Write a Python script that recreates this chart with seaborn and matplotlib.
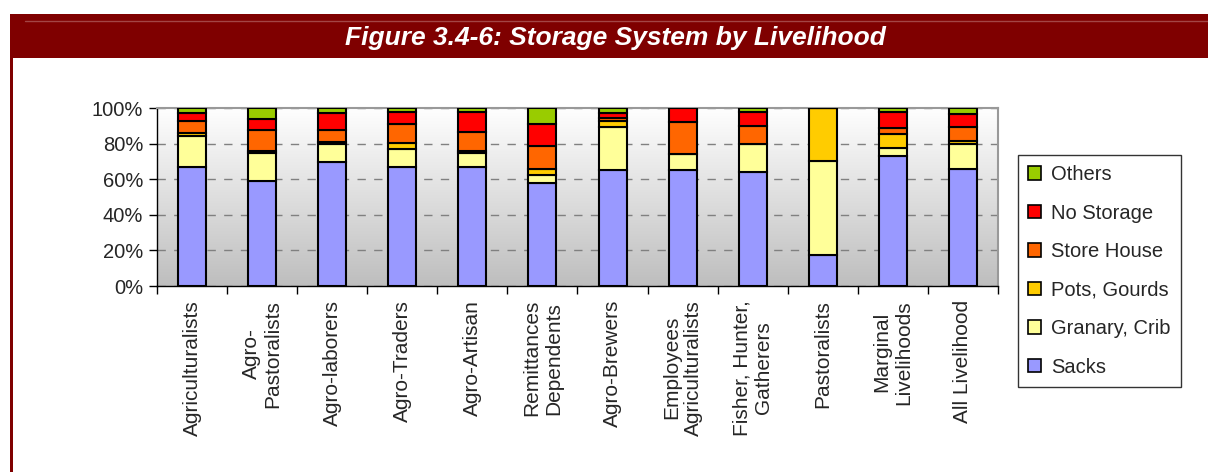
import matplotlib
matplotlib.use("Agg")
import matplotlib.pyplot as plt
import matplotlib.patches as mpatches
import matplotlib.lines as mlines
import numpy as np
import seaborn as sns

# categories along the x axis (newlines as in the original labels)
categories = ["Agriculturalists", "Agro-\nPastoralists", "Agro-laborers", "Agro-Traders",
              "Agro-Artisan", "Remittances\nDependents", "Agro-Brewers",
              "Employees\nAgriculturalists", "Fisher, Hunter,\nGatherers", "Pastoralists",
              "Marginal\nLivelihoods", "All Livelihood"]

# percentage shares, bottom to top of each stack
sacks = [67, 59, 69.5, 67, 67, 58, 65, 65, 64, 17.5, 73, 66]
granary = [17, 16, 10, 10, 8, 4.5, 24.5, 9, 15.5, 53, 4.5, 13.5]
pots = [2, 1, 1.5, 3.5, 1, 3.5, 3, 0, 0, 29.5, 8, 2]
store_house = [6.5, 11.5, 6.5, 10.5, 10.5, 12.5, 2, 18, 10.5, 0, 3, 8]
no_storage = [4.5, 6.5, 9.5, 7, 11, 12.5, 2.5, 8, 8, 0, 9, 7]
others = [3, 6, 3, 2, 2.5, 9, 3, 0, 2, 0, 2.5, 3.5]

series = [("Sacks", sacks, "#9999FF"),
          ("Granary, Crib", granary, "#FFFF99"),
          ("Pots, Gourds", pots, "#FFCC00"),
          ("Store House", store_house, "#FF6600"),
          ("No Storage", no_storage, "#FF0000"),
          ("Others", others, "#99CC00")]

y_ticks = [0, 20, 40, 60, 80, 100]
y_labels = ["0%", "20%", "40%", "60%", "80%", "100%"]

sns.set_style("ticks")
plt.rcParams["font.family"] = ["Liberation Sans", "DejaVu Sans"]

W, H = 1208, 472
fig = plt.figure(figsize=(W / 100, H / 100), dpi=100)
fig.patch.set_facecolor("white")

# header band and frame
fig.patches.append(mpatches.Rectangle((10 / W, 1 - 58 / H), 1 - 10 / W, 44 / H,
                                      transform=fig.transFigure, facecolor="#7F0000",
                                      edgecolor="none", zorder=0))
fig.patches.append(mpatches.Rectangle((10 / W, 0), 2.5 / W, 1 - 58 / H,
                                      transform=fig.transFigure, facecolor="#7F0000",
                                      edgecolor="none", zorder=0))
fig.lines.append(mlines.Line2D([25 / W, 1], [1 - 21 / H, 1 - 21 / H], transform=fig.transFigure,
                               color="#A34545", lw=1))
fig.text(615 / W, 1 - 38 / H, "Figure 3.4-6: Storage System by Livelihood", color="white",
         fontsize=19, fontweight="bold", fontstyle="italic", ha="center", va="center")

rect = [157 / W, 1 - 286 / H, (998 - 157) / W, (286 - 108) / H]

# gradient background behind the plot area
bg = fig.add_axes(rect, zorder=0)
grad = np.linspace(1, 0, 256).reshape(-1, 1)
bg.imshow(grad, aspect="auto", cmap=matplotlib.colors.LinearSegmentedColormap.from_list(
    "g", ["#BEBEBE", "#FFFFFF"]), extent=[0, 1, 0, 1])
bg.set_axis_off()

ax = fig.add_axes(rect, zorder=1)
ax.set_facecolor("none")

bottom = np.zeros(len(categories))
for name, vals, col in series:
    sns.barplot(x=categories, y=vals, bottom=bottom, color=col, edgecolor="black",
                linewidth=1.5, width=0.4, errorbar=None, saturation=1, ax=ax, zorder=3)
    bottom = bottom + np.array(vals)

ax.set_xlim(-0.5, len(categories) - 0.5)
ax.set_ylim(0, 100)
ax.set_yticks(y_ticks)
ax.set_yticklabels(y_labels, fontsize=14.5)
ax.yaxis.grid(True, color="#808080", linestyle=(0, (6, 6)), linewidth=1)
ax.set_axisbelow(True)

ax.set_xticks(range(len(categories)))
ax.set_xticklabels(categories, rotation=90, fontsize=15, va="top", ha="center",
                   multialignment="center")
ax.tick_params(axis="x", which="major", length=0, pad=10)
ax.set_xticks(np.arange(-0.5, len(categories), 1), minor=True)
ax.tick_params(axis="x", which="minor", length=6, width=1, color="black")
ax.tick_params(axis="y", length=6, width=1, color="black", pad=4)

for s in ["left", "bottom"]:
    ax.spines[s].set_color("black")
    ax.spines[s].set_linewidth(1)
for s in ["top", "right"]:
    ax.spines[s].set_visible(True)
    ax.spines[s].set_color("#999999")
    ax.spines[s].set_linewidth(1.5)
ax.set_xlabel("")
ax.set_ylabel("")

handles = [mpatches.Patch(facecolor=col, edgecolor="black", linewidth=1.2, label=name)
           for name, vals, col in series][::-1]
leg = fig.legend(handles=handles, loc="upper left", bbox_to_anchor=(1018 / W, 1 - 155 / H),
                 fontsize=14.5, frameon=True, fancybox=False, edgecolor="black",
                 handlelength=0.65, handleheight=0.65, handletextpad=0.5,
                 labelspacing=0.97, borderpad=0.5, borderaxespad=0)
leg.get_frame().set_linewidth(1)

fig.savefig("out.png", dpi=100)
